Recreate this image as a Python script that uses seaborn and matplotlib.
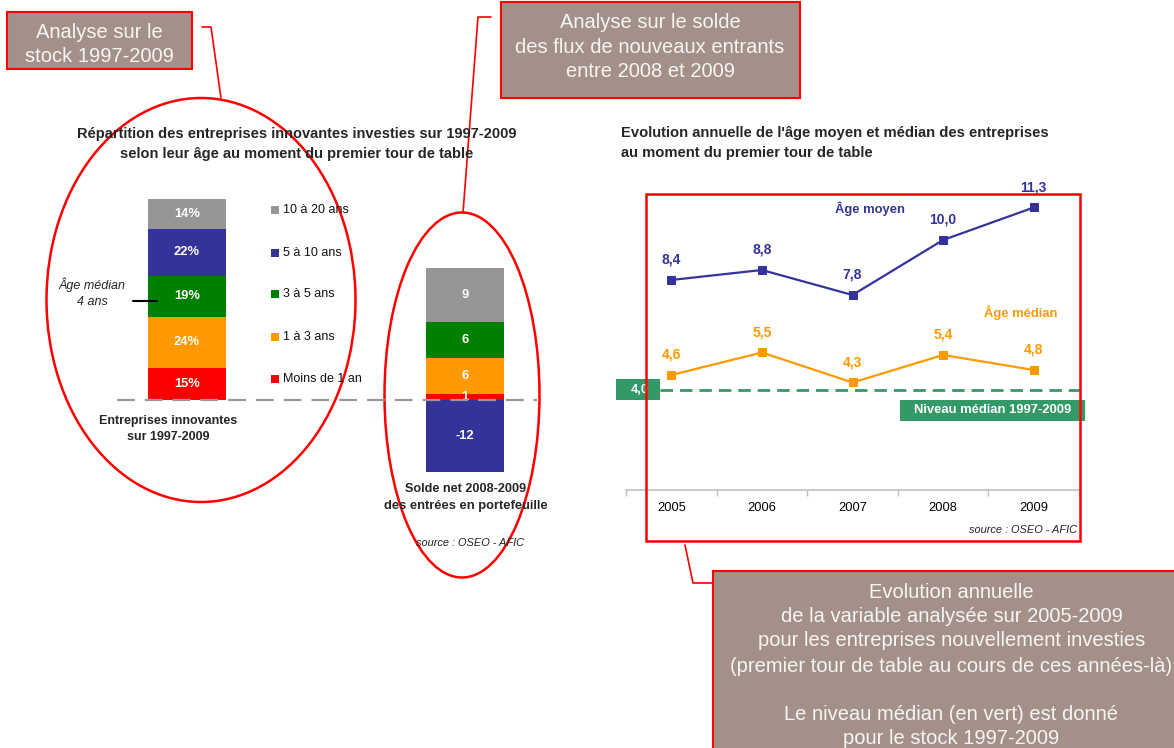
import numpy as np
import matplotlib
matplotlib.use("Agg")
import matplotlib.pyplot as plt
import matplotlib.transforms as mtransforms
from matplotlib.patches import Rectangle, Ellipse
import seaborn as sns

# ---------------- data ----------------
age_classes = ["Moins de 1 an", "1 à 3 ans", "3 à 5 ans", "5 à 10 ans", "10 à 20 ans"]
class_colors = ["#FF0000", "#FF9900", "#008000", "#333399", "#969696"]
stock_pct = [15, 24, 19, 22, 14]          # stock 1997-2009 (%)
solde_net = [1, 6, 6, -12, 9]             # solde net 2008-2009

years = [2005, 2006, 2007, 2008, 2009]
age_moyen = [8.4, 8.8, 7.8, 10.0, 11.3]
age_median = [4.6, 5.5, 4.3, 5.4, 4.8]
median_stock = 4.0

BLUE = "#333399"
ORANGE = "#FF9900"
GREEN = "#339966"
RED = "#FF0000"
BOXC = "#A39189"
BOXTXT = "#F7F5F4"

sns.set_theme(style="white")
plt.rcParams["font.family"] = ["Liberation Sans", "DejaVu Sans"]

W, H = 1174, 748
fig = plt.figure(figsize=(W / 100, H / 100), dpi=100)
fig.patch.set_facecolor("white")


def px_axes(x0, y0, x1, y1):
    return fig.add_axes([x0 / W, 1 - y1 / H, (x1 - x0) / W, (y1 - y0) / H])


def fr(v):
    return f"{v:.1f}".replace(".", ",")


def stacked_bar(ax, values, fmt):
    segs = []
    pos = neg = 0
    for v, c in zip(values, class_colors):
        if v >= 0:
            segs.append((pos, pos + v, v, c))
            pos += v
        else:
            segs.append((neg + v, neg, v, c))
            neg += v
    order = sorted(range(len(segs)),
                   key=lambda i: -max(abs(segs[i][0]), abs(segs[i][1])))
    for i in order:
        lo, hi, v, c = segs[i]
        tip = hi if v >= 0 else lo
        sns.barplot(x=["b"], y=[tip], color=c, saturation=1, width=1,
                    linewidth=0, ax=ax)
    for lo, hi, v, c in segs:
        ax.text(0, (lo + hi) / 2, fmt(v), ha="center", va="center",
                color="white", fontweight="bold", fontsize=9.3)
    ax.set_xlim(-0.5, 0.5)
    ax.axis("off")


# ---------------- stock bar ----------------
ax1 = px_axes(148, 186, 226, 400)
stacked_bar(ax1, stock_pct, lambda v: f"{v}%")
ax1.set_ylim(0, 100)

# ---------------- solde bar ----------------
ax2 = px_axes(426, 250, 504, 490)
stacked_bar(ax2, solde_net, lambda v: f"{v}")
ax2.set_ylim(-15, 25)

# ---------------- line chart ----------------
ax3 = px_axes(626, 190, 1079, 490)
ax3.patch.set_alpha(0)
sns.lineplot(x=years, y=age_moyen, color=BLUE, marker="s", markersize=5.5,
             markeredgecolor=BLUE, linewidth=1.6, ax=ax3)
sns.lineplot(x=years, y=age_median, color=ORANGE, marker="s", markersize=5.5,
             markeredgecolor=ORANGE, linewidth=1.6, ax=ax3)
for x, v in zip(years, age_moyen):
    ax3.annotate(fr(v), (x, v), xytext=(0, 14.5), textcoords="offset points",
                 ha="center", va="center", color=BLUE, fontweight="bold",
                 fontsize=10, annotation_clip=False)
for x, v in zip(years, age_median):
    ax3.annotate(fr(v), (x, v), xytext=(0, 14.5), textcoords="offset points",
                 ha="center", va="center", color=ORANGE, fontweight="bold",
                 fontsize=10)
ax3.set_xlim(2004.5, 2009.5)
ax3.set_ylim(0, 12)
ax3.set_xticks(years)
ax3.set_xticklabels([str(y) for y in years])
ax3.set_xticks(np.arange(2004.5, 2010, 1), minor=True)
ax3.set_yticks([])
ax3.tick_params(axis="x", which="major", length=0, pad=9, labelsize=9.3,
                colors="black")
ax3.tick_params(axis="x", which="minor", bottom=True, length=4,
                color="#c0c0c0", width=1, direction="out")
for s in ["top", "left", "right"]:
    ax3.spines[s].set_visible(False)
ax3.spines["bottom"].set_color("#c0c0c0")
ax3.spines["bottom"].set_linewidth(1.2)
ax3.set_xlabel("")
ax3.set_ylabel("")

ax3.text(2007.19, 11.24, "Âge moyen", color=BLUE, fontweight="bold",
         fontsize=9.4, ha="center", va="center")
ax3.text(2008.86, 7.08, "Âge médian", color=ORANGE, fontweight="bold",
         fontsize=9.4, ha="center", va="center")

trans = mtransforms.blended_transform_factory(ax3.transAxes, ax3.transData)
ax3.axhline(median_stock, xmin=0.075, xmax=1.013, color=GREEN, lw=2,
            dashes=(4.5, 2.5), clip_on=False)
ax3.add_patch(Rectangle((-0.022, median_stock - 0.42), 0.097, 0.84,
                        transform=trans, color=GREEN, clip_on=False, lw=0))
ax3.text(0.031, median_stock, fr(median_stock), transform=trans, color="white",
         fontweight="bold", fontsize=9.3, ha="center", va="center")
ax3.add_patch(Rectangle((0.605, median_stock - 1.24), 0.408, 0.84,
                        transform=trans, color=GREEN, clip_on=False, lw=0))
ax3.text(0.809, median_stock - 0.82, "Niveau médian 1997-2009", transform=trans,
         color="white", fontweight="bold", fontsize=9.4, ha="center",
         va="center")

# ---------------- overlay (annotations) ----------------
bg = fig.add_axes([0, 0, 1, 1])
bg.set_xlim(0, W)
bg.set_ylim(H, 0)
bg.axis("off")
bg.patch.set_visible(False)
bg.set_zorder(10)

# baseline dashed line
bg.plot([117, 537], [400, 400], color="#999999", lw=1.6, dashes=(8, 4.5))

# legend
leg_y = [379, 337, 294, 253, 210]
for lab, col, y in zip(age_classes, class_colors, leg_y):
    bg.add_patch(Rectangle((271, y - 4), 8, 8, color=col, lw=0))
    bg.text(283, y, lab, fontsize=9, ha="left", va="center", color="#111111")

# titles
bg.text(296.5, 134, "Répartition des entreprises innovantes investies sur 1997-2009",
        fontsize=10.5, fontweight="bold", ha="center", va="center")
bg.text(296.5, 154, "selon leur âge au moment du premier tour de table",
        fontsize=10.5, fontweight="bold", ha="center", va="center")
bg.text(621, 133, "Evolution annuelle de l'âge moyen et médian des entreprises",
        fontsize=10.6, fontweight="bold", ha="left", va="center")
bg.text(621, 153, "au moment du premier tour de table",
        fontsize=10.6, fontweight="bold", ha="left", va="center")

# bar captions
bg.text(168, 421, "Entreprises innovantes", fontsize=9, fontweight="bold",
        ha="center", va="center")
bg.text(168, 437, "sur 1997-2009", fontsize=9, fontweight="bold",
        ha="center", va="center")
bg.text(466, 489, "Solde net 2008-2009", fontsize=9.1, fontweight="bold",
        ha="center", va="center")
bg.text(466, 506, "des entrées en portefeuille", fontsize=9.3, fontweight="bold",
        ha="center", va="center")
bg.text(470, 543, "source : OSEO - AFIC", fontsize=7.9, style="italic",
        ha="center", va="center", color="#222222")
bg.text(1077, 530, "source : OSEO - AFIC", fontsize=7.9, style="italic",
        ha="right", va="center", color="#222222")

# median pointer
bg.text(92, 285, "Âge médian", fontsize=9, style="italic", ha="center",
        va="center")
bg.text(92, 302, "4 ans", fontsize=9, style="italic", ha="center", va="center")
bg.plot([133, 157], [301, 301], color="black", lw=1.5)

# ellipses and frame
bg.add_patch(Ellipse((201, 300), 309, 404, fill=False, ec=RED, lw=1.8))
bg.add_patch(Ellipse((462, 395), 155, 365, fill=False, ec=RED, lw=1.8))
bg.add_patch(Rectangle((646, 194), 434, 347, fill=False, ec=RED, lw=1.8))

# connectors
bg.plot([202, 211, 221], [27, 27, 98], color=RED, lw=1.2)
bg.plot([491, 478, 463], [17, 17, 213], color=RED, lw=1.2)
bg.plot([685, 693, 712], [545, 583, 583], color=RED, lw=1.2)

# annotation boxes
bg.add_patch(Rectangle((7, 12), 185, 57, fc=BOXC, ec=RED, lw=1.5))
bg.text(99.5, 32, "Analyse sur le", fontsize=14.5, color=BOXTXT, ha="center",
        va="center")
bg.text(99.5, 56, "stock 1997-2009", fontsize=14.5, color=BOXTXT, ha="center",
        va="center")

bg.add_patch(Rectangle((501, 2), 299, 96, fc=BOXC, ec=RED, lw=1.5))
for t, y in zip(["Analyse sur le solde", "des flux de nouveaux entrants",
                 "entre 2008 et 2009"], [22, 47, 71]):
    bg.text(650, y, t, fontsize=14.5, color=BOXTXT, ha="center", va="center")

bg.add_patch(Rectangle((713, 571), 480, 200, fc=BOXC, ec=RED, lw=1.5,
                       clip_on=False))
for t, y in zip(["Evolution annuelle",
                 "de la variable analysée sur 2005-2009",
                 "pour les entreprises nouvellement investies",
                 "(premier tour de table au cours de ces années-là)",
                 "Le niveau médian (en vert) est donné",
                 "pour le stock 1997-2009"],
                [592, 616, 641, 666, 715, 738]):
    bg.text(951.5, y, t, fontsize=14.5, color=BOXTXT, ha="center", va="center")

fig.savefig("out.png", dpi=100, facecolor="white")
